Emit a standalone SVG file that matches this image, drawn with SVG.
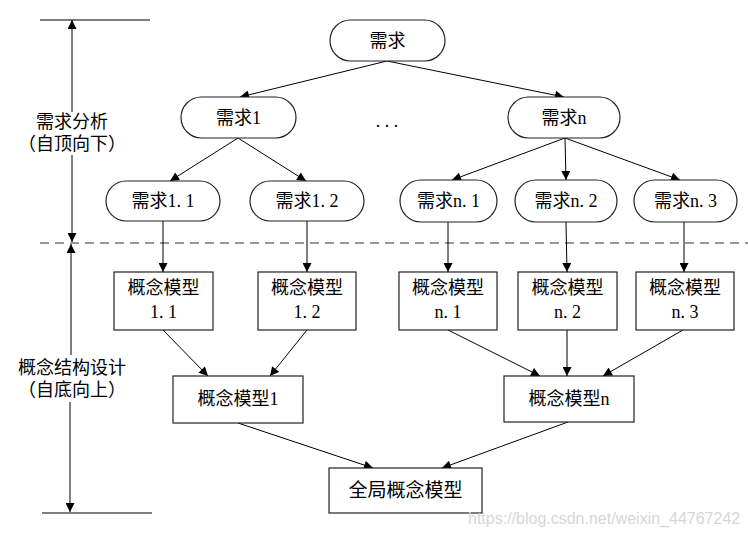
<svg xmlns="http://www.w3.org/2000/svg" width="748" height="535" viewBox="0 0 748 535">
<style>
text{font-family:"Liberation Serif","Noto Sans CJK SC",serif;font-size:18px;fill:#000;text-anchor:middle}
.n rect{fill:#fff;stroke:#222;stroke-width:1.2}
.c line{stroke:#000;stroke-width:1}
.g line{stroke:#555;stroke-width:1.5}
.wm{font-family:"Liberation Sans",Arial,sans-serif;font-size:16px;fill:#d6d6d6;text-anchor:start}
</style>
<defs>
<marker id="a" viewBox="0 0 10 10" refX="10" refY="5" markerWidth="11" markerHeight="9" markerUnits="userSpaceOnUse" orient="auto"><path d="M0,0L10,5L0,10z" fill="#000"/></marker>
</defs>
<rect width="748" height="535" fill="#fff"/>
<g id="guides" class="g">
<line x1="40" y1="20" x2="150" y2="20"/>
<line x1="42" y1="513" x2="152" y2="513"/>
<line x1="40" y1="243" x2="748" y2="243" stroke-dasharray="9,6" style="stroke:#333;stroke-width:1.2"/>
</g>
<g id="phase-labels">
<text x="72" y="128">需求分析</text>
<text x="72" y="150">（自顶向下）</text>
<text x="72" y="374">概念结构设计</text>
<text x="72" y="396">（自底向上）</text>
<text x="387" y="127">. . .</text>
</g>
<g id="connectors" class="c">
<line x1="72" y1="112" x2="72" y2="20" marker-end="url(#a)"/>
<line x1="72" y1="155" x2="72" y2="242" marker-end="url(#a)"/>
<line x1="71" y1="355" x2="71" y2="244" marker-end="url(#a)"/>
<line x1="70" y1="402" x2="70" y2="512" marker-end="url(#a)"/>
<line x1="387" y1="61" x2="240" y2="97" marker-end="url(#a)"/>
<line x1="387" y1="61" x2="564" y2="97" marker-end="url(#a)"/>
<line x1="238" y1="138" x2="170" y2="181" marker-end="url(#a)"/>
<line x1="238" y1="138" x2="306" y2="181" marker-end="url(#a)"/>
<line x1="565" y1="138" x2="452" y2="180" marker-end="url(#a)"/>
<line x1="565" y1="138" x2="566" y2="180" marker-end="url(#a)"/>
<line x1="565" y1="138" x2="680" y2="180" marker-end="url(#a)"/>
<line x1="163" y1="221" x2="163" y2="272" marker-end="url(#a)"/>
<line x1="307" y1="221" x2="307" y2="272" marker-end="url(#a)"/>
<line x1="448" y1="222" x2="448" y2="272" marker-end="url(#a)"/>
<line x1="566" y1="222" x2="567" y2="272" marker-end="url(#a)"/>
<line x1="684" y1="222" x2="684" y2="272" marker-end="url(#a)"/>
<line x1="163" y1="330" x2="208" y2="376" marker-end="url(#a)"/>
<line x1="307" y1="330" x2="270" y2="376" marker-end="url(#a)"/>
<line x1="448" y1="330" x2="540" y2="376" marker-end="url(#a)"/>
<line x1="567" y1="330" x2="567" y2="376" marker-end="url(#a)"/>
<line x1="683" y1="330" x2="603" y2="376" marker-end="url(#a)"/>
<line x1="238" y1="423" x2="373" y2="468" marker-end="url(#a)"/>
<line x1="568" y1="422" x2="442" y2="468" marker-end="url(#a)"/>
</g>
<g id="n-req" class="n"><rect x="330" y="20" width="115" height="41" rx="20.5"/><text x="387.5" y="46.5">需求</text></g>
<g id="n-req1" class="n"><rect x="181" y="97" width="115" height="41" rx="20.5"/><text x="238.5" y="123.5">需求1</text></g>
<g id="n-reqn" class="n"><rect x="508" y="97" width="112" height="41" rx="20.5"/><text x="564" y="123.5">需求n</text></g>
<g id="n-req11" class="n"><rect x="106" y="181" width="114" height="40" rx="20"/><text x="163" y="207">需求1. 1</text></g>
<g id="n-req12" class="n"><rect x="250" y="181" width="114" height="40" rx="20"/><text x="307" y="207">需求1. 2</text></g>
<g id="n-reqn1" class="n"><rect x="400" y="180" width="97" height="42" rx="21"/><text x="448.5" y="207">需求n. 1</text></g>
<g id="n-reqn2" class="n"><rect x="515" y="180" width="102" height="42" rx="21"/><text x="566" y="207">需求n. 2</text></g>
<g id="n-reqn3" class="n"><rect x="634" y="180" width="103" height="42" rx="21"/><text x="685.5" y="207">需求n. 3</text></g>
<g id="n-cm11" class="n"><rect x="114" y="272" width="99" height="58"/><text x="163.5" y="294">概念模型</text><text x="163.5" y="318">1. 1</text></g>
<g id="n-cm12" class="n"><rect x="258" y="272" width="98" height="58"/><text x="307" y="294">概念模型</text><text x="307" y="318">1. 2</text></g>
<g id="n-cmn1" class="n"><rect x="399" y="272" width="98" height="58"/><text x="448" y="294">概念模型</text><text x="448" y="318">n. 1</text></g>
<g id="n-cmn2" class="n"><rect x="518" y="272" width="99" height="58"/><text x="567.5" y="294">概念模型</text><text x="567.5" y="318">n. 2</text></g>
<g id="n-cmn3" class="n"><rect x="636" y="272" width="98" height="58"/><text x="685" y="294">概念模型</text><text x="685" y="318">n. 3</text></g>
<g id="n-cm1" class="n"><rect x="173" y="376" width="130" height="47"/><text x="238" y="405">概念模型1</text></g>
<g id="n-cmn" class="n"><rect x="504" y="376" width="130" height="46"/><text x="569" y="405">概念模型n</text></g>
<g id="n-global" class="n"><rect x="329" y="468" width="153" height="45"/><text x="405.5" y="497" style="font-size:19px">全局概念模型</text></g>
<text class="wm" x="468" y="524">https://blog.csdn.net/weixin_44767242</text>
</svg>
